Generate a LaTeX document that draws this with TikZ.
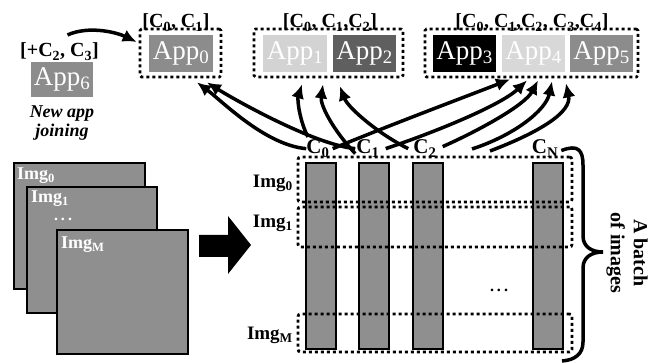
\documentclass[tikz,border=0pt]{standalone}
\usepackage{fontspec}
\setmainfont{Liberation Serif}
\usetikzlibrary{arrows.meta}
\definecolor{gmid}{HTML}{8C8C8C}
\definecolor{glight}{HTML}{D3D3D3}
\definecolor{glighter}{HTML}{D8D8D8}
\definecolor{gdark}{HTML}{5F5F5F}
\definecolor{gsheet}{HTML}{8F8F8F}
\newcommand\mysub[1]{\textsubscript{#1}}
\begin{document}
\begin{tikzpicture}[x=1pt,y=-1pt,
  appbox/.style={text=white, inner sep=0pt, minimum width=64pt, minimum height=37pt, font=\fontsize{27}{27}\selectfont},
  grp/.style={draw, line width=2.8pt, dash pattern=on 3pt off 3pt, rounded corners=1.5pt, inner sep=0pt},
  lab/.style={font=\bfseries\fontsize{20}{20}\selectfont, inner sep=0pt, anchor=base},
  clab/.style={font=\bfseries\fontsize{21}{21}\selectfont, inner sep=0pt, anchor=base},
  rlab/.style={font=\bfseries\fontsize{19}{19}\selectfont, inner sep=0pt, anchor=base east},
  slab/.style={font=\bfseries\fontsize{18}{18}\selectfont, inner sep=0pt, anchor=base west, text=white},
  arr/.style={line width=3.5pt, -{Latex[length=14pt,width=13pt]}},
  sheet/.style={draw, fill=gsheet, line width=2.5pt, inner sep=0pt},
  colbar/.style={draw, fill=gsheet, line width=2.5pt, inner sep=0pt, minimum width=30pt, minimum height=186pt},
  rowbox/.style={grp, minimum width=274pt, rounded corners=2.5pt}
]
\useasboundingbox (0,0) rectangle (649,363);

% ---------- top application groups ----------
\node[grp, minimum width=81pt, minimum height=48pt] (g0) at (180.5,53) {};
\node[appbox, fill=gmid] (app0) at (181,53.5) {App\mysub{0}};
\node[lab] (l0) at (176,28) {[C\mysub{0}, C\mysub{1}]};

\node[grp, minimum width=149pt, minimum height=48pt] (g1) at (328.5,53) {};
\node[appbox, fill=glight] (app1) at (295,53.5) {App\mysub{1}};
\node[appbox, fill=gdark, minimum width=63pt] (app2) at (364.5,53.5) {App\mysub{2}};
\node[lab] (l1) at (330,28) {[C\mysub{0}, C\mysub{1},C\mysub{2}]};

\node[grp, minimum width=213pt, minimum height=48pt] (g2) at (531.5,53) {};
\node[appbox, fill=black, minimum width=63pt] (app3) at (464.5,53.5) {App\mysub{3}};
\node[appbox, fill=glighter, minimum width=63pt] (app4) at (533.5,53.5) {App\mysub{4}};
\node[appbox, fill=gmid, minimum width=63pt] (app5) at (601.5,53.5) {App\mysub{5}};
\node[lab] (l2) at (532,28) {[C\mysub{0}, C\mysub{1},C\mysub{2}, C\mysub{3},C\mysub{4}]};

% ---------- new app ----------
\node[appbox, fill=gmid, minimum width=62pt, minimum height=35pt] (app6) at (62,79.5) {App\mysub{6}};
\node[lab] (l6) at (59.5,57) {[+C\mysub{2}, C\mysub{3}]};
\node[font=\bfseries\itshape\fontsize{18}{19}\selectfont, align=center, inner sep=0pt, anchor=north] (newtxt) at (62,106) {New app\\joining};
\draw[arr] ([xshift=8pt,yshift=8pt]l6.north) .. controls (90,25) and (118,33) .. ([xshift=-2pt,yshift=11pt]g0.west);

% ---------- stack of images ----------
\node[sheet, minimum width=131pt, minimum height=126pt] (img0) at (79.5,226) {};
\node[slab] (s0) at (17,180) {Img\mysub{0}};
\node[sheet, minimum width=130pt, minimum height=126pt] (img1) at (92,250) {};
\node[slab] (s1) at (31,203) {Img\mysub{1}};
\node[font=\bfseries\fontsize{16}{16}\selectfont, text=white, inner sep=0pt] (sdots) at (63,219) {.\hspace{3pt}.\hspace{3pt}.};
\node[sheet, minimum width=131pt, minimum height=124pt] (imgM) at (122.5,292) {};
\node[slab] (sM) at (61,249) {Img\mysub{M}};

% big arrow
\fill (199,235) -- (228,235) -- (228,216) -- (251,245) -- (228,274) -- (228,257) -- (199,257) -- cycle;

% ---------- batch grid ----------
\node[colbar] (col0) at (321,256) {};
\node[colbar] (col1) at (374,256) {};
\node[colbar] (col2) at (428,256) {};
\node[colbar] (colN) at (548,256) {};

\node[rowbox, minimum height=45pt] (row0) at (435,179.5) {};
\node[rowbox, minimum height=40pt] (row1) at (435,227) {};
\node[rowbox, minimum height=38pt] (rowM) at (435,333) {};

\node[rlab] (r0) at (293,188) {Img\mysub{0}};
\node[rlab] (r1) at (293,228) {Img\mysub{1}};
\node[rlab] (rM) at (293,340) {Img\mysub{M}};

\node[clab] (c0) at (318,154) {C\mysub{0}};
\node[clab] (c1) at (368,154) {C\mysub{1}};
\node[clab] (c2) at (425,154) {C\mysub{2}};
\node[clab] (cN) at (545,154) {C\mysub{N}};
\coordinate (c3) at (472,149);
\coordinate (c4) at (490,151);

\node[font=\bfseries\fontsize{16}{16}\selectfont, inner sep=0pt] (gdots) at (499,290) {.\hspace{3pt}.\hspace{3pt}.};

% brace
\draw[line width=3.5pt] ([xshift=3pt,yshift=-2pt]cN.east) .. controls (578,144) and (583,150) .. (583,165) -- (583,236)
  .. controls (583,247) and (592,252) .. (603,252) .. controls (592,252) and (583,257) .. (583,268)
  -- (583,342) .. controls (583,354) and (575,360) .. (562,361);
\node[rotate=-90, align=center, font=\bfseries\fontsize{20}{23}\selectfont, inner sep=0pt] (batch) at (627,253) {A batch\\of images};

% ---------- arrows to App0 ----------
\draw[arr] (c0.west) .. controls (265,145) and (222,101) .. ([xshift=16.5pt,yshift=-4pt]g0.south);
\draw[arr] ([xshift=-1pt]c1.west) .. controls (315,145) and (235,100) .. ([xshift=26.5pt,yshift=-4pt]g0.south);

% ---------- arrows to App1/App2 ----------
\draw[arr] ([xshift=-10pt,yshift=3pt]c0.north) .. controls (300,122) and (297,100) .. ([xshift=-26.5pt,yshift=-6pt]g1.south);
\draw[arr] ([xshift=-1pt,yshift=-5pt]c1.west) .. controls (333,130) and (320,105) .. ([xshift=-5.5pt,yshift=-6pt]g1.south);
\draw[arr] ([xshift=-5pt]c2.west) .. controls (380,135) and (348,108) .. ([xshift=11.5pt,yshift=-8pt]g1.south);

% ---------- arrows to App3..5 ----------
\draw[arr] ([xshift=3pt]c0.east) .. controls (390,125) and (470,95) .. ([xshift=-21.5pt,yshift=-1pt]g2.south);
\draw[arr] ([xshift=6pt]c1.east) .. controls (430,134) and (500,106) .. ([xshift=-4.5pt,yshift=-2pt]g2.south);
\draw[arr] ([xshift=6pt,yshift=2pt]c2.east) .. controls (480,130) and (525,105) .. ([xshift=6.5pt,yshift=-2pt]g2.south);
\draw[arr] (c3) .. controls (515,135) and (546,110) .. ([xshift=20.5pt,yshift=-3pt]g2.south);
\draw[arr] (c4) .. controls (540,132) and (572,112) .. ([xshift=34.5pt,yshift=-5pt]g2.south);
\end{tikzpicture}
\end{document}
